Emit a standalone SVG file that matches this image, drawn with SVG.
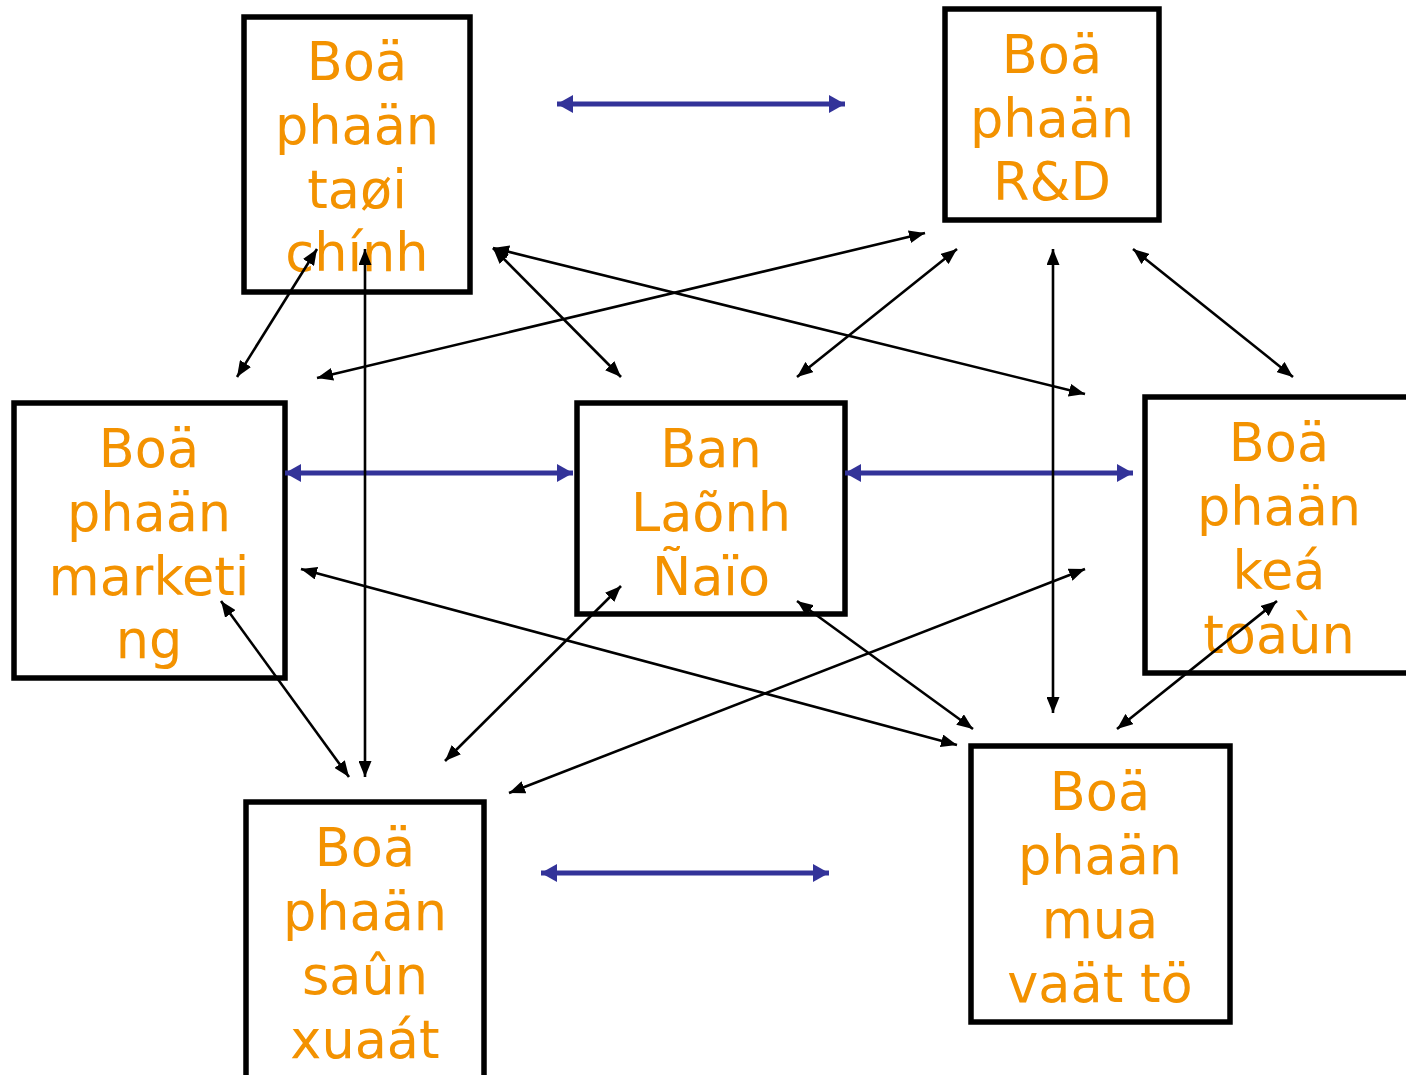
<svg xmlns="http://www.w3.org/2000/svg" width="1406" height="1075" viewBox="0 0 1406 1075">
  <style>
    .box { fill: #ffffff; stroke: #000000; stroke-width: 5.5; }
    .lbl { font-family: "DejaVu Sans", "Liberation Sans", sans-serif; font-size: 52.5px; fill: #F39200; text-anchor: middle; }
    .blue { stroke: #333399; stroke-width: 5; fill: none; marker-start: url(#headBlue); marker-end: url(#headBlue); }
    .link { stroke: #000000; stroke-width: 2.6; fill: none; marker-start: url(#headBlack); marker-end: url(#headBlack); }
  </style>
  <defs>
    <marker id="headBlue" viewBox="0 0 16 18" refX="16" refY="9" markerWidth="16" markerHeight="18" markerUnits="userSpaceOnUse" orient="auto-start-reverse">
      <path d="M0,0 L16,9 L0,18 Z" fill="#333399"/>
    </marker>
    <marker id="headBlack" viewBox="0 0 16 13" refX="16" refY="6.5" markerWidth="16" markerHeight="13" markerUnits="userSpaceOnUse" orient="auto-start-reverse">
      <path d="M0,0 L16,6.5 L0,13 Z" fill="#000000"/>
    </marker>
  </defs>

  <rect width="1406" height="1075" fill="#ffffff"/>

  <!-- departments -->
  <g id="node-taichinh">
    <rect class="box" x="244" y="17" width="226" height="275"/>
    <text class="lbl" x="357" y="80">Boä</text>
    <text class="lbl" x="357" y="144">phaän</text>
    <text class="lbl" x="357" y="208">taøi</text>
    <text class="lbl" x="357" y="271">chính</text>
  </g>
  <g id="node-rd">
    <rect class="box" x="945" y="9" width="214" height="211"/>
    <text class="lbl" x="1052" y="73">Boä</text>
    <text class="lbl" x="1052" y="137">phaän</text>
    <text class="lbl" x="1052" y="200">R&amp;D</text>
  </g>
  <g id="node-marketing">
    <rect class="box" x="14" y="403" width="271" height="275"/>
    <text class="lbl" x="149" y="467">Boä</text>
    <text class="lbl" x="149" y="531">phaän</text>
    <text class="lbl" x="149" y="595">marketi</text>
    <text class="lbl" x="149" y="658">ng</text>
  </g>
  <g id="node-lanhdao">
    <rect class="box" x="577" y="403" width="268" height="211"/>
    <text class="lbl" x="711" y="467">Ban</text>
    <text class="lbl" x="711" y="531">Laõnh</text>
    <text class="lbl" x="711" y="595">Ñaïo</text>
  </g>
  <g id="node-ketoan">
    <rect class="box" x="1145" y="397" width="268" height="276"/>
    <text class="lbl" x="1279" y="461">Boä</text>
    <text class="lbl" x="1279" y="525">phaän</text>
    <text class="lbl" x="1279" y="589">keá</text>
    <text class="lbl" x="1279" y="653">toaùn</text>
  </g>
  <g id="node-sanxuat">
    <rect class="box" x="246" y="802" width="238" height="290"/>
    <text class="lbl" x="365" y="866">Boä</text>
    <text class="lbl" x="365" y="930">phaän</text>
    <text class="lbl" x="365" y="994">saûn</text>
    <text class="lbl" x="365" y="1058">xuaát</text>
  </g>
  <g id="node-muavattu">
    <rect class="box" x="971" y="746" width="259" height="276"/>
    <text class="lbl" x="1100" y="810">Boä</text>
    <text class="lbl" x="1100" y="874">phaän</text>
    <text class="lbl" x="1100" y="938">mua</text>
    <text class="lbl" x="1100" y="1002">vaät tö</text>
  </g>

  <!-- connectors -->
  <g id="connectors">
    <line class="blue" x1="557" y1="104" x2="845" y2="104"/>
    <line class="blue" x1="285" y1="473" x2="573" y2="473"/>
    <line class="blue" x1="845" y1="473" x2="1133" y2="473"/>
    <line class="blue" x1="541" y1="873" x2="829" y2="873"/>

    <line class="link" x1="237" y1="377" x2="317" y2="249"/>
    <line class="link" x1="365" y1="249" x2="365" y2="777"/>
    <line class="link" x1="317" y1="378" x2="925" y2="233"/>
    <line class="link" x1="493" y1="248" x2="621" y2="377"/>
    <line class="link" x1="493" y1="248" x2="1085" y2="394"/>
    <line class="link" x1="797" y1="377" x2="957" y2="249"/>
    <line class="link" x1="1053" y1="249" x2="1053" y2="713"/>
    <line class="link" x1="1133" y1="249" x2="1293" y2="377"/>
    <line class="link" x1="301" y1="569" x2="957" y2="745"/>
    <line class="link" x1="221" y1="601" x2="349" y2="777"/>
    <line class="link" x1="621" y1="586" x2="445" y2="761"/>
    <line class="link" x1="509" y1="793" x2="1085" y2="569"/>
    <line class="link" x1="797" y1="601" x2="973" y2="729"/>
    <line class="link" x1="1277" y1="601" x2="1117" y2="729"/>
  </g>
</svg>
